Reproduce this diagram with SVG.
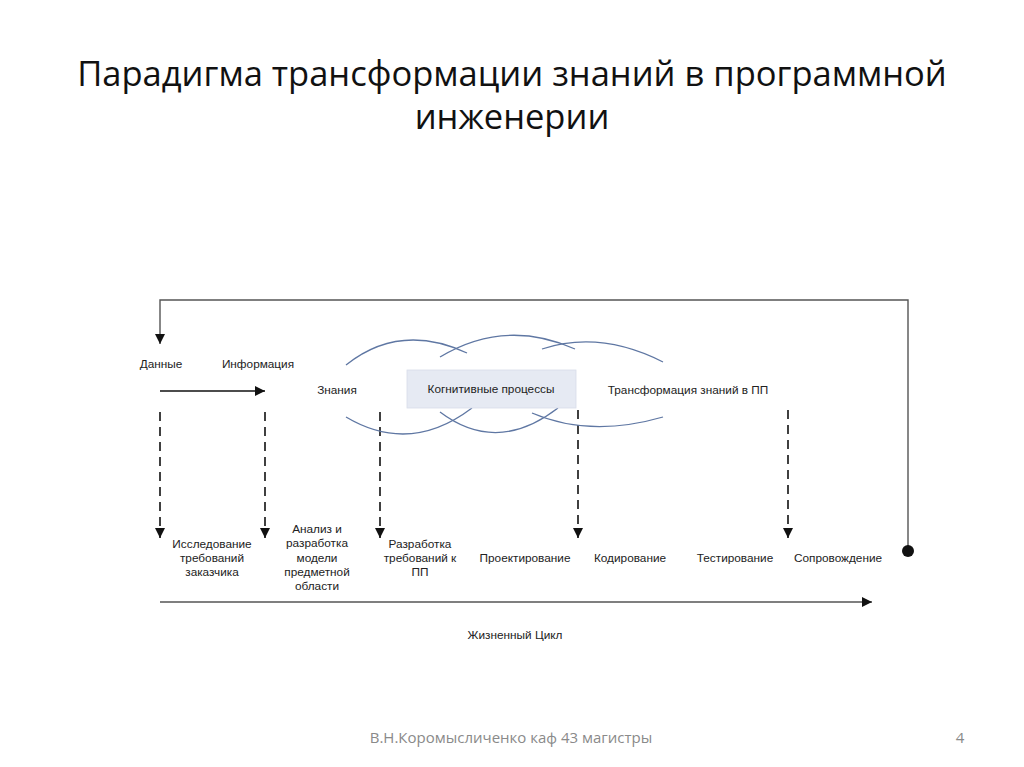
<svg xmlns="http://www.w3.org/2000/svg" width="1024" height="767" viewBox="0 0 1024 767">
<style>
.t{font-family:"Liberation Sans",Arial,sans-serif;font-size:11.8px;fill:#222;text-anchor:middle}
.title{font-family:"Open Sans","Liberation Sans",sans-serif;font-size:34.5px;fill:#111;text-anchor:middle}
.foot{font-family:"Open Sans","Liberation Sans",sans-serif;font-size:15px;fill:#8a8a8a}
.ln{stroke:#111;stroke-width:1.6;fill:none}
.gr{stroke:#555;stroke-width:1.4;fill:none}
.ds{stroke:#111;stroke-width:1.6;fill:none;stroke-dasharray:9,6}
.cv{stroke:#5f77a3;stroke-width:1.3;fill:none}
</style>
<defs>
<marker id="ah" viewBox="0 0 10 10" refX="10" refY="5" markerWidth="10" markerHeight="10" markerUnits="userSpaceOnUse" orient="auto">
<path d="M0,0 L10,5 L0,10 Z" fill="#111"/>
</marker>
</defs>
<rect width="1024" height="767" fill="#fff"/>
<text class="title" x="512" y="86">Парадигма трансформации знаний в программной</text>
<text class="title" x="512" y="129">инженерии</text>

<g id="connectors">
<path class="gr" d="M908,551 V300 H160 V344" marker-end="url(#ah)"/>
<circle cx="908" cy="551" r="6" fill="#111"/>
<path class="ln" d="M160,391 H265" marker-end="url(#ah)"/>
<path class="ds" d="M160,412 V538" marker-end="url(#ah)"/>
<path class="ds" d="M265,412 V538" marker-end="url(#ah)"/>
<path class="ds" d="M380,412 V538" marker-end="url(#ah)"/>
<path class="ds" d="M578,410 V538" marker-end="url(#ah)"/>
<path class="ds" d="M788,410 V538" marker-end="url(#ah)"/>
<path class="gr" d="M160,602 H872" marker-end="url(#ah)"/>
</g>

<g id="curves">
<path class="cv" d="M346,365 Q400,322 467,353"/>
<path class="cv" d="M440,357 Q505,318 575,349"/>
<path class="cv" d="M542,349 Q600,330 663,362"/>
<path class="cv" d="M346,417 Q410,455 472,408"/>
<path class="cv" d="M440,412 Q497,455 558,408"/>
<path class="cv" d="M532,413 Q590,438 663,417"/>
</g>

<g id="n-dannye"><text class="t" x="161" y="368">Данные</text></g>
<g id="n-info"><text class="t" x="258" y="368">Информация</text></g>
<g id="n-znaniya"><text class="t" x="337" y="394">Знания</text></g>
<g id="n-cognitive">
<rect x="407" y="370" width="169" height="38" fill="#e6eaf3" stroke="#d8dde9" stroke-width="0.8"/>
<text class="t" x="491" y="393">Когнитивные процессы</text>
</g>
<g id="n-transform"><text class="t" x="688" y="394">Трансформация знаний в ПП</text></g>

<g id="n-issled"><text class="t" x="212" y="548">Исследование</text><text class="t" x="212" y="562">требований</text><text class="t" x="212" y="576">заказчика</text></g>
<g id="n-analiz"><text class="t" x="317" y="533">Анализ и</text><text class="t" x="317" y="547">разработка</text><text class="t" x="317" y="562">модели</text><text class="t" x="317" y="576">предметной</text><text class="t" x="317" y="590">области</text></g>
<g id="n-razrab"><text class="t" x="420" y="548">Разработка</text><text class="t" x="420" y="562">требований к</text><text class="t" x="420" y="576">ПП</text></g>
<g id="n-proekt"><text class="t" x="525" y="562">Проектирование</text></g>
<g id="n-kod"><text class="t" x="630" y="562">Кодирование</text></g>
<g id="n-test"><text class="t" x="735" y="562">Тестирование</text></g>
<g id="n-sopr"><text class="t" x="838" y="562">Сопровождение</text></g>
<g id="n-cycle"><text class="t" x="515" y="639">Жизненный Цикл</text></g>

<text class="foot" x="511" y="743" text-anchor="middle">В.Н.Коромысличенко каф 43 магистры</text>
<text class="foot" x="960" y="743" text-anchor="middle">4</text>
</svg>
